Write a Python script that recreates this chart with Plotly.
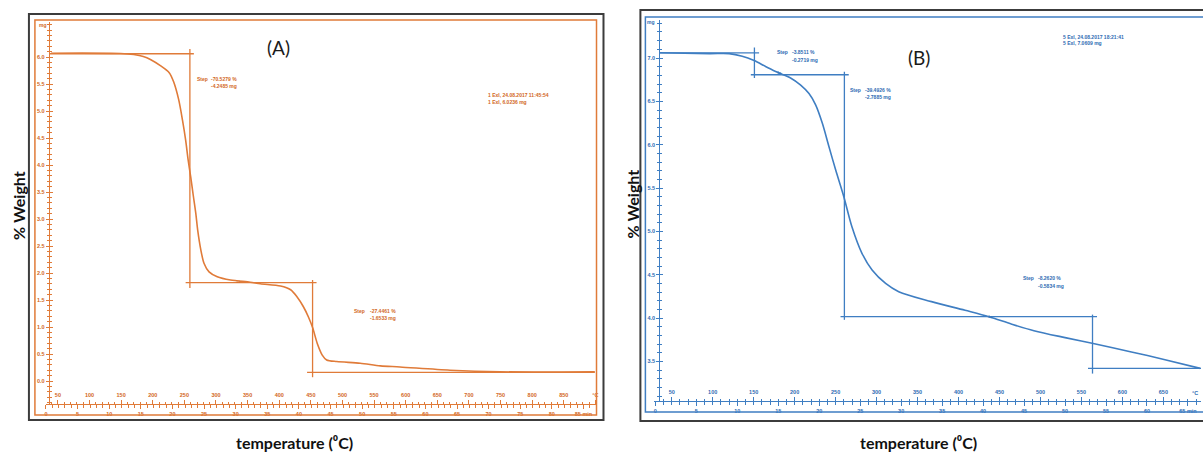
import plotly.graph_objects as go

W, H = 1203, 452

# ---------------- data : panel A (orange) ----------------
temp_a = [39, 149, 170, 185, 197, 212, 226, 233, 241, 247, 252, 256, 260, 264, 268, 271, 276,
          281, 289, 302, 323, 354, 370, 402, 418, 428, 438, 446, 453, 460, 468, 475, 491,
          528, 560, 591, 670, 749, 899]
mass_a = [6.07, 6.065, 6.045, 6.01, 5.95, 5.84, 5.71, 5.54, 5.21, 4.83, 4.46, 4.09, 3.78, 3.44,
          3.11, 2.80, 2.43, 2.18, 2.02, 1.93, 1.87, 1.83, 1.80, 1.76, 1.69, 1.56, 1.38, 1.19,
          0.98, 0.70, 0.48, 0.39, 0.36, 0.33, 0.28, 0.26, 0.20, 0.17, 0.17]
# step evaluation lines (horizontal: level, from, to ; vertical: temp, top, bottom)
step_a_h_level = [6.06, 1.82, 0.16]
step_a_h_from = [36, 252, 444]
step_a_h_to = [265, 459, 899]
step_a_v_temp = [258.7, 452.7]
step_a_v_top = [6.15, 1.87]
step_a_v_bottom = [1.72, 0.07]
step_a_pct = ["-70.5279 %", "-27.4461 %"]
step_a_mg = ["-4.2485 mg", "-1.6533 mg"]
info_a = ["1 Exl, 24.08.2017 11:45:54", "1 Exl, 6.0236 mg"]

# ---------------- data : panel B (blue) ----------------
temp_b = [35, 96, 120, 136, 150.5, 165, 179, 195, 207, 217.5, 225.6, 233.7, 241.8, 250, 260,
          270, 282, 294.5, 311, 327, 367, 408, 437, 465, 492, 530, 563, 611, 652, 695]
mass_b = [7.06, 7.05, 7.05, 7.02, 6.97, 6.90, 6.835, 6.77, 6.69, 6.59, 6.46, 6.25, 5.98, 5.71,
          5.40, 5.05, 4.75, 4.555, 4.40, 4.305, 4.19, 4.09, 4.016, 3.93, 3.855, 3.775, 3.71,
          3.61, 3.52, 3.42]
step_b_h_level = [7.06, 6.807, 4.016, 3.421]
step_b_h_from = [35, 146.5, 256, 558]
step_b_h_to = [156.6, 266, 569, 720]
step_b_v_temp = [150.9, 260.7, 563.5]
step_b_v_top = [7.12, 6.84, 4.04]
step_b_v_bottom = [6.77, 3.98, 3.36]
step_b_pct = ["-3.8511 %", "-39.4926 %", "-8.2620 %"]
step_b_mg = ["-0.2719 mg", "-2.7885 mg", "-0.5834 mg"]
info_b = ["5 Exl, 24.08.2017 18:21:41", "5 Exl, 7.0609 mg"]

temp_ticks_a = list(range(50, 851, 50))
temp_ticks_b = list(range(50, 651, 50))
time_ticks_a = list(range(0, 86, 5))
time_ticks_b = list(range(0, 66, 5))
mg_ticks_a = [i * 0.5 for i in range(0, 13)]
mg_ticks_b = [3.5 + i * 0.5 for i in range(0, 8)]

OR = "#e07b39"
ORT = "#d2671d"
BL = "#3f7ec2"
BLT = "#2e6bb3"


def px(x):
    return x / W


def py(y):
    return 1 - y / H


def step_xy(h_level, h_from, h_to, v_temp, v_top, v_bot):
    xs, ys = [], []
    for lv, a, b in zip(h_level, h_from, h_to):
        xs += [a, b, None]
        ys += [lv, lv, None]
    for t, a, b in zip(v_temp, v_top, v_bot):
        xs += [t, t, None]
        ys += [a, b, None]
    return xs, ys


fig = go.Figure()

fig.add_trace(go.Scatter(x=temp_a, y=mass_a, xaxis="x", yaxis="y", mode="lines",
                         line=dict(color=OR, width=1.6, shape="spline", smoothing=0.8),
                         showlegend=False, hoverinfo="skip"))
sx, sy = step_xy(step_a_h_level, step_a_h_from, step_a_h_to, step_a_v_temp, step_a_v_top, step_a_v_bottom)
fig.add_trace(go.Scatter(x=sx, y=sy, xaxis="x", yaxis="y", mode="lines",
                         line=dict(color=OR, width=1.3), showlegend=False, hoverinfo="skip"))

fig.add_trace(go.Scatter(x=temp_b, y=mass_b, xaxis="x3", yaxis="y2", mode="lines",
                         line=dict(color=BL, width=1.6, shape="spline", smoothing=0.9),
                         showlegend=False, hoverinfo="skip"))
sx, sy = step_xy(step_b_h_level, step_b_h_from, step_b_h_to, step_b_v_temp, step_b_v_top, step_b_v_bottom)
fig.add_trace(go.Scatter(x=sx, y=sy, xaxis="x3", yaxis="y2", mode="lines",
                         line=dict(color=BL, width=1.3), showlegend=False, hoverinfo="skip"))

# invisible helper traces so that the overlaid ruler axes (time scale, inner ticks) are drawn
for xa, ya, xs_, ys_ in [("x2", "y", time_ticks_a, [mg_ticks_a[1]] * len(time_ticks_a)),
                         ("x", "y3", temp_ticks_a, [mg_ticks_a[1]] * len(temp_ticks_a)),
                         ("x4", "y2", time_ticks_b, [mg_ticks_b[1]] * len(time_ticks_b)),
                         ("x3", "y4", temp_ticks_b, [mg_ticks_b[1]] * len(temp_ticks_b))]:
    fig.add_trace(go.Scatter(x=xs_, y=ys_, xaxis=xa, yaxis=ya, mode="markers",
                             marker=dict(opacity=0, size=1), showlegend=False, hoverinfo="skip"))

tf_a = dict(size=5.5, color=ORT, family="Liberation Sans", weight="bold")
tf_b = dict(size=5.5, color=BLT, family="Liberation Sans", weight="bold")

common = dict(showgrid=False, zeroline=False)

time_text_a = [str(v) for v in time_ticks_a[:-1]] + [str(time_ticks_a[-1]) + " min"]
time_text_b = [str(v) for v in time_ticks_b[:-1]] + [str(time_ticks_b[-1]) + " min"]

# ---- panel A axes ----
tA0, tA1 = 31.0, 901.7
yA = [(381 - 404) / 54, (381 - 22) / 54]
fig.update_layout(
    xaxis=dict(domain=[px(45), px(597)], range=[tA0, tA1], anchor="y",
               tickmode="array", tickvals=temp_ticks_a + [900],
               ticktext=[str(v) for v in temp_ticks_a] + ["°C"],
               ticklabelposition="inside", ticklabeloverflow="allow",
               ticks="inside", ticklen=4, tickwidth=1, tickcolor=OR, tickfont=tf_a,
               showline=True, linecolor=OR, linewidth=1.3,
               minor=dict(ticks="inside", dtick=10, tick0=0, ticklen=2, tickcolor=OR),
               **common),
    xaxis2=dict(overlaying="x", anchor="y", side="bottom",
                range=[(tA0 - 31.1) / 10, (tA1 - 31.1) / 10],
                tickmode="array", tickvals=time_ticks_a, ticktext=time_text_a,
                ticks="outside", ticklen=4, tickwidth=1, tickcolor=OR, tickfont=tf_a,
                ticklabeloverflow="allow",
                minor=dict(ticks="outside", dtick=1, tick0=0, ticklen=3, tickcolor=OR),
                showline=False, **common),
    yaxis=dict(domain=[py(404), py(22)], range=yA,
               anchor="free", position=px(48),
               tickmode="array", tickvals=mg_ticks_a, tickformat=".1f",
               ticks="outside", ticklen=3, tickwidth=1, tickcolor=OR, tickfont=tf_a,
               showline=True, linecolor=OR, linewidth=1.3,
               minor=dict(ticks="outside", dtick=0.1, tick0=0, ticklen=2, tickcolor=OR),
               **common),
    yaxis3=dict(overlaying="y", anchor="free", position=px(48), side="left",
                range=yA,
                tickmode="array", tickvals=mg_ticks_a, showticklabels=False,
                ticks="inside", ticklen=3, tickcolor=OR,
                minor=dict(ticks="inside", dtick=0.1, tick0=0, ticklen=2, tickcolor=OR),
                showline=False, **common),
)

# ---- panel B axes ----
tB0, tB1 = 28.8, 695.9
yB = [7.0 - (401 - 58) / 86.7, 7.0 + (58 - 20) / 86.7]
fig.update_layout(
    xaxis3=dict(domain=[px(655), 1.0], range=[tB0, tB1], anchor="y2",
                tickmode="array", tickvals=temp_ticks_b,
                ticklabelposition="inside", ticklabeloverflow="allow",
                ticks="inside", ticklen=4, tickwidth=1, tickcolor=BL, tickfont=tf_b,
                showline=True, linecolor=BL, linewidth=1.3,
                minor=dict(ticks="inside", dtick=10, tick0=0, ticklen=2, tickcolor=BL),
                **common),
    xaxis4=dict(overlaying="x3", anchor="y2", side="bottom",
                range=[(tB0 - 30) / 10, (tB1 - 30) / 10],
                tickmode="array", tickvals=time_ticks_b, ticktext=time_text_b,
                ticks="outside", ticklen=4, tickwidth=1, tickcolor=BL, tickfont=tf_b,
                ticklabeloverflow="allow",
                minor=dict(ticks="outside", dtick=1, tick0=0, ticklen=3, tickcolor=BL),
                showline=False, **common),
    yaxis2=dict(domain=[py(401), py(20)], range=yB,
                anchor="free", position=px(660),
                tickmode="array", tickvals=mg_ticks_b, tickformat=".1f",
                ticks="outside", ticklen=3, tickwidth=1, tickcolor=BL, tickfont=tf_b,
                showline=True, linecolor=BL, linewidth=1.3,
                minor=dict(ticks="outside", dtick=0.1, tick0=0, ticklen=2, tickcolor=BL),
                **common),
    yaxis4=dict(overlaying="y2", anchor="free", position=px(660), side="left",
                range=yB,
                tickmode="array", tickvals=mg_ticks_b, showticklabels=False,
                ticks="inside", ticklen=3, tickcolor=BL,
                minor=dict(ticks="inside", dtick=0.1, tick0=0, ticklen=2, tickcolor=BL),
                showline=False, **common),
)

# ---- frames ----
shapes = [
    dict(type="rect", xref="paper", yref="paper", x0=px(28), x1=px(604), y0=py(420), y1=py(14),
         line=dict(color="#3c3c3c", width=2)),
    dict(type="rect", xref="paper", yref="paper", x0=px(34), x1=px(597), y0=py(415), y1=py(20),
         line=dict(color=OR, width=1.5)),
    dict(type="rect", xref="paper", yref="paper", x0=px(641), x1=px(1220), y0=py(421), y1=py(10),
         line=dict(color="#3c3c3c", width=2)),
    dict(type="rect", xref="paper", yref="paper", x0=px(646), x1=px(1220), y0=py(412), y1=py(17),
         line=dict(color=BL, width=1.5)),
]

ann = []


def txt(x, y, s, size=5, color="#000", xanchor="left", family="Liberation Sans", **kw):
    ann.append(dict(x=px(x), y=py(y), xref="paper", yref="paper", text=s, showarrow=False,
                    xanchor=xanchor, yanchor="middle", font=dict(size=size, color=color, family=family), **kw))


# panel A texts
txt(42, 25, "<b>mg</b>", color=ORT, xanchor="center")
txt(194, 79, "<b>Step</b>", color=ORT)
txt(209, 79, "<b>" + step_a_pct[0] + "</b>", color=ORT)
txt(209, 86, "<b>" + step_a_mg[0] + "</b>", color=ORT)
txt(352, 311, "<b>Step</b>", color=ORT)
txt(368, 311, "<b>" + step_a_pct[1] + "</b>", color=ORT)
txt(368, 318, "<b>" + step_a_mg[1] + "</b>", color=ORT)
txt(486, 95, "<b>" + info_a[0] + "</b>", color=ORT)
txt(486, 102, "<b>" + info_a[1] + "</b>", color=ORT)
txt(238, 281, "11", size=4, color=ORT, xanchor="center")
txt(278, 48, "(A)", size=19, color="#1a1a1a", xanchor="center", family="Lato")
txt(17, 205, "<b>% Weight</b>", size=16, color="#111", xanchor="center", family="Lato", textangle=-90)
txt(294, 442, "<b>temperature (⁰C)</b>", size=16, color="#111", xanchor="center", family="Lato")

# panel B texts
txt(652, 22, "<b>mg</b>", color=BLT, xanchor="center")
txt(776, 52.3, "<b>Step</b>", color=BLT)
txt(791, 52.3, "<b>" + step_b_pct[0] + "</b>", color=BLT)
txt(791, 60, "<b>" + step_b_mg[0] + "</b>", color=BLT)
txt(849, 90, "<b>Step</b>", color=BLT)
txt(864, 90, "<b>" + step_b_pct[1] + "</b>", color=BLT)
txt(864, 97.3, "<b>" + step_b_mg[1] + "</b>", color=BLT)
txt(1023, 278.3, "<b>Step</b>", color=BLT)
txt(1038, 278.3, "<b>" + step_b_pct[2] + "</b>", color=BLT)
txt(1038, 285.7, "<b>" + step_b_mg[2] + "</b>", color=BLT)
txt(1063, 36.7, "<b>" + info_b[0] + "</b>", color=BLT)
txt(1063, 43.3, "<b>" + info_b[1] + "</b>", color=BLT)
txt(780, 73, "1s", size=4, color=BLT, xanchor="center")
txt(991, 316, "1s", size=4, color=BLT, xanchor="center")
txt(1202, 393, "<b>°C</b>", size=5.5, color=BLT, xanchor="right")
txt(920, 57, "(B)", size=19, color="#1a1a1a", xanchor="center", family="Lato")
txt(633, 204, "<b>% Weight</b>", size=16, color="#111", xanchor="center", family="Lato", textangle=-90)
txt(920, 442, "<b>temperature (⁰C)</b>", size=16, color="#111", xanchor="center", family="Lato")

fig.update_layout(width=W, height=H, margin=dict(l=0, r=0, t=0, b=0),
                  paper_bgcolor="white", plot_bgcolor="white",
                  shapes=shapes, annotations=ann, showlegend=False,
                  font=dict(family="Liberation Sans"))

fig.write_html("out.html")
